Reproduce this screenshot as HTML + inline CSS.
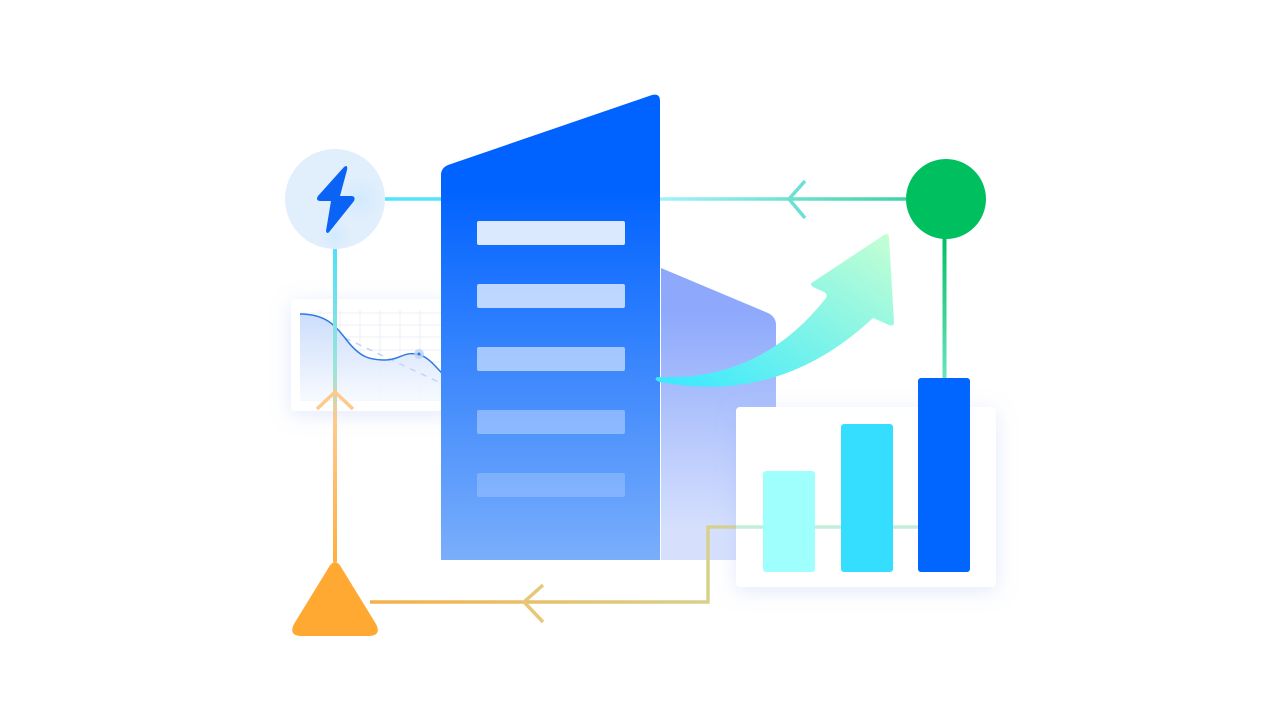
<!DOCTYPE html>
<html><head><meta charset="utf-8"><style>html,body{margin:0;padding:0;background:#fff;width:1280px;height:720px;overflow:hidden}</style></head>
<body>
<svg width="1280" height="720" viewBox="0 0 1280 720" xmlns="http://www.w3.org/2000/svg">
<defs>
<linearGradient id="bld" x1="0" y1="0" x2="0" y2="1"><stop offset="0.2" stop-color="#0062ff"/><stop offset="1" stop-color="#7aaefb"/></linearGradient>
<linearGradient id="back" x1="0" y1="0" x2="0" y2="1"><stop offset="0.15" stop-color="#8ea9fc"/><stop offset="0.9" stop-color="#d6e0fd"/></linearGradient>
<linearGradient id="topl" gradientUnits="userSpaceOnUse" x1="660" y1="0" x2="906" y2="0"><stop offset="0" stop-color="#a2f0ff"/><stop offset="1" stop-color="#3fd3a4"/></linearGradient>
<linearGradient id="vg" x1="0" y1="0" x2="0" y2="1"><stop offset="0" stop-color="#00c060"/><stop offset="1" stop-color="#6ce3c0"/></linearGradient>
<linearGradient id="lv" x1="0" y1="0" x2="0" y2="1"><stop offset="0" stop-color="#4fe0fb"/><stop offset="0.4" stop-color="#9fe4d4"/><stop offset="0.55" stop-color="#ffc98c"/><stop offset="1" stop-color="#ffae40"/></linearGradient>
<linearGradient id="bot" gradientUnits="userSpaceOnUse" x1="370" y1="0" x2="920" y2="0"><stop offset="0" stop-color="#f6b04a"/><stop offset="0.6" stop-color="#d8d08a"/><stop offset="1" stop-color="#b8ecd4"/></linearGradient>
<linearGradient id="arr" x1="0" y1="1" x2="1" y2="0"><stop offset="0" stop-color="#36e8ff"/><stop offset="1" stop-color="#c6ffd2"/></linearGradient>
<linearGradient id="area" x1="0" y1="0" x2="0" y2="1"><stop offset="0" stop-color="#c7dafb"/><stop offset="1" stop-color="#f6f9ff"/></linearGradient>
<filter id="sh" x="-30%" y="-30%" width="160%" height="160%"><feDropShadow dx="0" dy="4" stdDeviation="10" flood-color="#8fa8f0" flood-opacity="0.25"/></filter>
<radialGradient id="glow"><stop offset="0" stop-color="#cfeaff" stop-opacity="0.9"/><stop offset="1" stop-color="#cfeaff" stop-opacity="0"/></radialGradient>
</defs>

<rect x="291" y="299" width="160" height="112" rx="4" fill="#fff" filter="url(#sh)"/>
<g stroke="#eceff4" stroke-width="1">
<line x1="300" y1="313" x2="445" y2="313"/><line x1="300" y1="325" x2="445" y2="325"/><line x1="300" y1="337" x2="445" y2="337"/><line x1="300" y1="350" x2="445" y2="350"/><line x1="300" y1="362" x2="445" y2="362"/><line x1="300" y1="375" x2="445" y2="375"/><line x1="300" y1="388" x2="445" y2="388"/><line x1="300" y1="400" x2="445" y2="400"/>
<line x1="320" y1="310" x2="320" y2="400"/><line x1="340" y1="310" x2="340" y2="400"/><line x1="360" y1="310" x2="360" y2="400"/><line x1="380" y1="310" x2="380" y2="400"/><line x1="400" y1="310" x2="400" y2="400"/><line x1="420" y1="310" x2="420" y2="400"/>
</g>
<path d="M300,314 C325,314 335,325 345,338 C360,358 370,360 385,360 C400,360 405,350 420,355 C430,358 438,370 445,376 L445,400 L300,400 Z" fill="url(#area)" opacity="0.9"/>
<path d="M345,338 L445,385" stroke="#c3d5f5" stroke-width="1.5" stroke-dasharray="6,6" fill="none"/>
<path d="M300,314 C325,314 335,325 345,338 C360,358 370,360 385,360 C400,360 405,350 420,355 C430,358 438,370 445,376" stroke="#2d7ae6" stroke-width="1.5" fill="none"/>
<circle cx="419" cy="354" r="5" fill="#bcd3f5" opacity="0.8"/><circle cx="419" cy="354" r="1.5" fill="#2d7ae6"/>

<line x1="385" y1="199" x2="442" y2="199" stroke="#55e2fb" stroke-width="3.5"/>
<rect x="660" y="197.25" width="246" height="3.5" fill="url(#topl)"/>
<polyline points="805,181 789,199 805,218" fill="none" stroke="#6ce0d4" stroke-width="3.5"/>
<rect x="942.5" y="237" width="4" height="142" fill="url(#vg)"/>
<rect x="333" y="248" width="4" height="314" fill="url(#lv)"/>
<polyline points="317,409 335,392 353,409" fill="none" stroke="#ffc98c" stroke-width="3.5"/>

<circle cx="335" cy="199" r="50" fill="#e1eefc"/>
<circle cx="360" cy="199" r="22" fill="url(#glow)"/>
<circle cx="335" cy="235" r="16" fill="url(#glow)"/>
<path d="M344,167 L318,196 Q315,201 321,201 L331,201 L326,231 Q327,235 330,231 L354,201 Q356,196 351,196 L340,196 L347,170 Q348,164 344,167 Z" fill="#0a63f5"/>

<circle cx="946" cy="199" r="40" fill="#00bf5f"/>

<path d="M661,268 L768,313 Q776,317 776,325 L776,560 L661,560 Z" fill="url(#back)"/>
<path d="M448,165 L652,95 Q660,93 660,101 L660,560 L441,560 L441,175 Q441,168 448,165 Z" fill="url(#bld)"/>
<rect x="477" y="221" width="148" height="24" rx="2" fill="#fff" opacity="0.85"/>
<rect x="477" y="284" width="148" height="24" rx="2" fill="#fff" opacity="0.7"/>
<rect x="477" y="347" width="148" height="24" rx="2" fill="#fff" opacity="0.55"/>
<rect x="477" y="410" width="148" height="24" rx="2" fill="#fff" opacity="0.35"/>
<rect x="477" y="473" width="148" height="24" rx="2" fill="#fff" opacity="0.2"/>

<polyline points="920,527 708,527 708,602 370,602" fill="none" stroke="url(#bot)" stroke-width="3.5"/>
<polyline points="543,585 524,602 543,622" fill="none" stroke="#e6c878" stroke-width="3.5"/>

<path d="M657,377 Q760,382 826,298 Q828,294 824,292 L813,287 Q809,284 813,282 L884,235 Q889,232 889,238 L894,322 Q894,327 889,325 L873,318 Q780,405 660,382 Q653,380 657,377 Z" fill="url(#arr)"/>

<rect x="736" y="407" width="260" height="180" rx="4" fill="#fff" filter="url(#sh)"/>
<line x1="736" y1="527" x2="920" y2="527" stroke="#b8ecd4" stroke-width="3.5" opacity="0.85"/>
<rect x="763" y="471" width="52" height="101" rx="3" fill="#9ffffd"/>
<rect x="841" y="424" width="52" height="148" rx="3" fill="#35ddff"/>
<rect x="918" y="378" width="52" height="194" rx="3" fill="#0066ff"/>

<path d="M329,567 Q335,557 341,567 L376,624 Q382,636 368,636 L302,636 Q288,636 294,624 Z" fill="#ffa832"/>
</svg>
</body></html>
